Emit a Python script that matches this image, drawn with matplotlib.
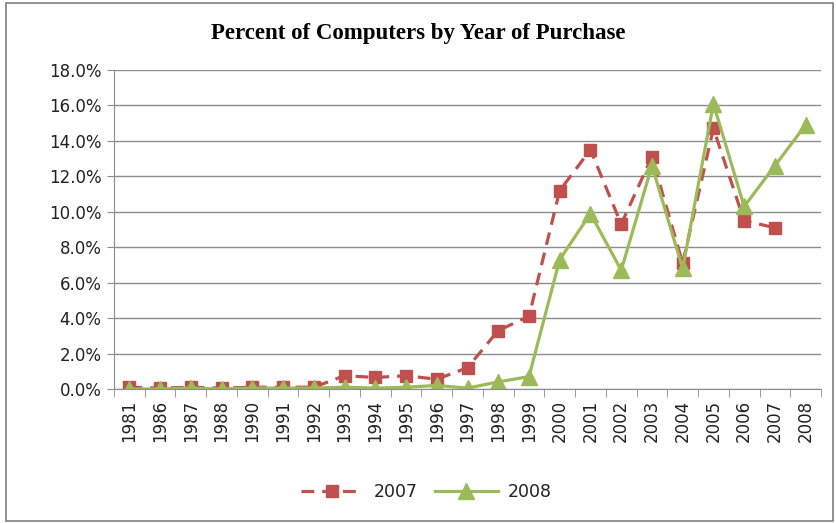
import numpy as np
import matplotlib
matplotlib.use("Agg")
import matplotlib.pyplot as plt
from matplotlib.ticker import FuncFormatter, FixedLocator
from matplotlib.patches import Rectangle

years = ["1981", "1986", "1987", "1988", "1990", "1991", "1992", "1993", "1994", "1995",
         "1996", "1997", "1998", "1999", "2000", "2001", "2002", "2003", "2004", "2005",
         "2006", "2007", "2008"]
s2007 = [0.1, 0.05, 0.1, 0.05, 0.1, 0.1, 0.1, 0.75, 0.65, 0.75, 0.55, 1.2, 3.3, 4.1,
         11.2, 13.5, 9.3, 13.1, 7.1, 14.7, 9.5, 9.1, np.nan]
s2008 = [0.0, 0.0, 0.05, 0.0, 0.05, 0.05, 0.05, 0.1, 0.05, 0.1, 0.2, 0.05, 0.4, 0.7,
         7.3, 9.9, 6.7, 12.6, 6.8, 16.1, 10.3, 12.6, 14.9]

RED = "#C0504D"
GREEN = "#9BBB59"
GRID = "#8c8c8c"
TICKFONT = "DejaVu Sans"

fig = plt.figure(figsize=(8.36, 5.23), dpi=100)
fig.patches.append(Rectangle((0.007, 0.004), 0.99, 0.99, transform=fig.transFigure,
                             fill=False, ec="#7f7f7f", lw=1.2))
ax = fig.add_axes([114/836, 1-389/523, (821-114)/836, (389-70)/523])

x = np.arange(len(years))
ax.plot(x, s2007, color=RED, lw=2.3, ls=(0, (4, 2.5)), marker="s", ms=8,
        mfc=RED, mec=RED, label="2007")
ax.plot(x, s2008, color=GREEN, lw=2.3, marker="^", ms=11,
        mfc=GREEN, mec=GREEN, label="2008")

ax.set_xlim(-0.5, len(years)-0.5)
ax.set_ylim(0, 18)
ax.set_yticks(np.arange(0, 18.1, 2))
ax.yaxis.set_major_formatter(FuncFormatter(lambda v, p: f"{v:.1f}%"))
ax.grid(axis="y", color=GRID, lw=1)
ax.set_axisbelow(True)

ax.set_xticks(x)
ax.set_xticklabels(years, rotation=90)
ax.xaxis.set_minor_locator(FixedLocator(np.arange(-0.5, len(years), 1)))
ax.tick_params(axis="x", which="major", length=0, pad=8, labelsize=12, labelcolor="#222222")
ax.tick_params(axis="x", which="minor", length=6, color=GRID, direction="out")
ax.tick_params(axis="y", length=5, color=GRID, labelsize=12, pad=4, labelcolor="#222222")
for lab in ax.get_xticklabels() + ax.get_yticklabels():
    lab.set_fontfamily(TICKFONT)

for s in ("top", "right"):
    ax.spines[s].set_visible(False)
for s in ("left", "bottom"):
    ax.spines[s].set_color(GRID)

fig.text(0.5, 1-33/523, "Percent of Computers by Year of Purchase", ha="center", va="center",
         fontsize=16.5, fontweight="bold", family="Liberation Serif")

fig.legend(loc="center", bbox_to_anchor=(0.51, 1-492/523), ncol=2, frameon=False,
           prop={"family": TICKFONT, "size": 12.5}, handlelength=3.6, handletextpad=0.6,
           columnspacing=1.0, labelcolor="#222222")

fig.savefig("out.png", dpi=100)
